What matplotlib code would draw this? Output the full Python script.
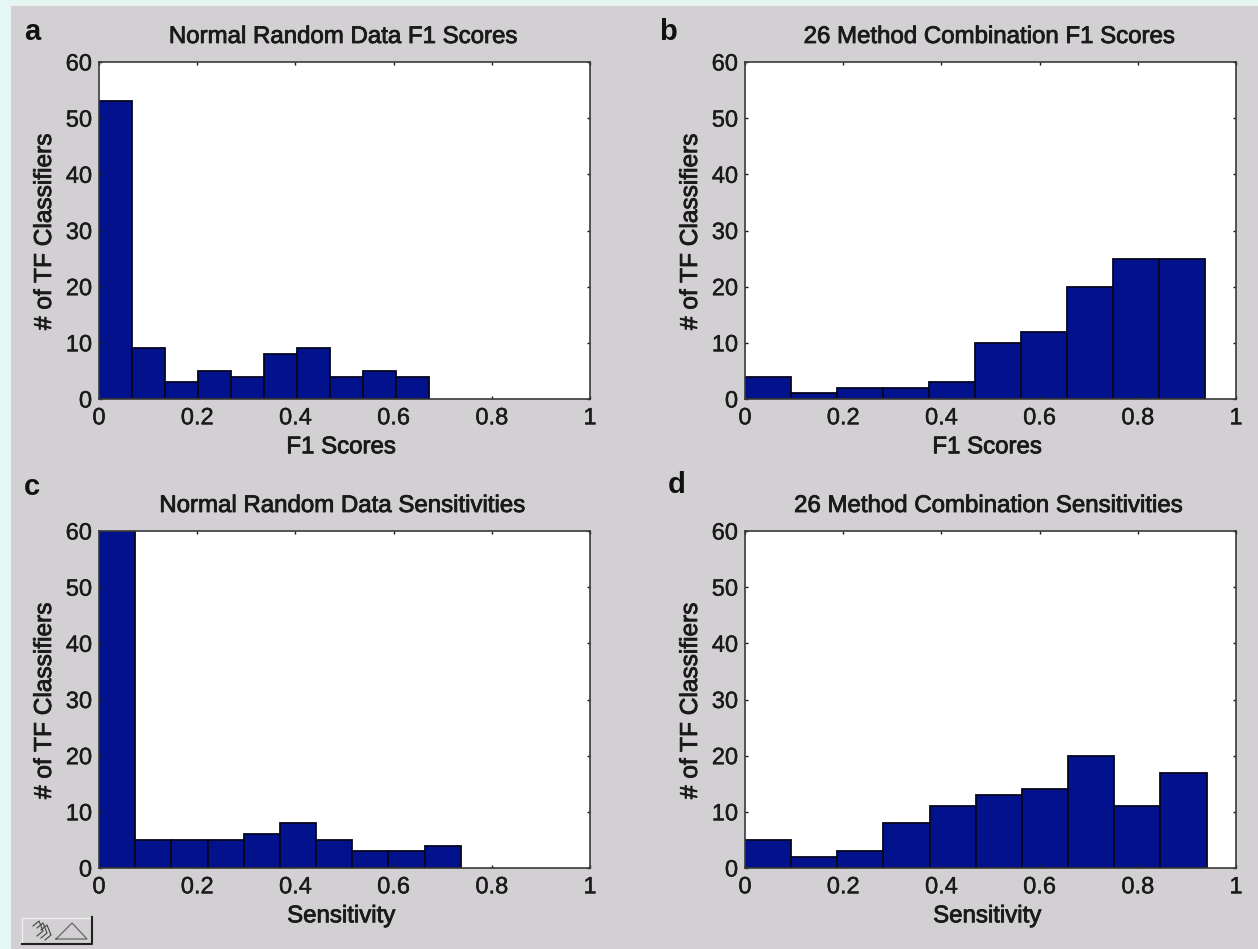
import matplotlib
matplotlib.use("Agg")
import matplotlib.pyplot as plt
import matplotlib.patheffects as pe
from matplotlib.patches import Rectangle
from matplotlib.lines import Line2D

W, H = 1258, 949
plt.rcParams['font.family'] = ['Liberation Sans', 'DejaVu Sans']

titles = ["Normal Random Data F1 Scores", "26 Method Combination F1 Scores",
          "Normal Random Data Sensitivities", "26 Method Combination Sensitivities"]
xlabels = ["F1 Scores", "F1 Scores", "Sensitivity", "Sensitivity"]
ylabel = "# of TF Classifiers"
panel_letters = ["a", "b", "c", "d"]

counts_a = [53, 9, 3, 5, 4, 8, 9, 4, 5, 4]
counts_b = [4, 1, 2, 2, 3, 10, 12, 20, 25, 25]
counts_c = [60, 5, 5, 5, 6, 8, 5, 3, 3, 4]
counts_d = [5, 2, 3, 8, 11, 13, 14, 20, 11, 17]
max_a, max_b, max_c, max_d = 0.672, 0.937, 0.737, 0.940
xticks = [0, 0.2, 0.4, 0.6, 0.8, 1]
xticklabels = ["0", "0.2", "0.4", "0.6", "0.8", "1"]
yticks = [0, 10, 20, 30, 40, 50, 60]

panels = [(counts_a, max_a), (counts_b, max_b), (counts_c, max_c), (counts_d, max_d)]
boxes = [(99, 62, 590, 399), (745, 62, 1236, 399), (99, 531, 590, 868), (745, 531, 1236, 868)]
letter_pos = [(24, 32), (659, 32), (24, 487), (668, 485)]
title_y = [37, 37, 506, 506]
title_cx = [343, 989, 342, 988]
TXT = "#1A1A1A"
heavy = [pe.withStroke(linewidth=0.6, foreground=TXT)]

fig = plt.figure(figsize=(W / 100, H / 100), dpi=100, facecolor="#E4F7F2")
fig.add_artist(Rectangle((11 / W, 0), 1, 1 - 5 / H, transform=fig.transFigure,
                         facecolor="#D3D0D3", edgecolor="none", zorder=-5))
fig.add_artist(Line2D([11 / W, 1], [1 - 5 / H] * 2, color="#F4F4F4", lw=1.2))

for i, ((counts, xmax), box) in enumerate(zip(panels, boxes)):
    l, t, r, b = box
    ax = fig.add_axes([l / W, 1 - b / H, (r - l) / W, (b - t) / H])
    width = xmax / len(counts)
    lefts = [k * width for k in range(len(counts))]
    ax.bar(lefts, counts, width=width, align="edge", color="#02128C",
           edgecolor="#050520", linewidth=1.3)
    ax.set_xlim(0, 1)
    ax.set_ylim(0, 60)
    ax.set_xticks(xticks, xticklabels)
    ax.set_yticks(yticks)
    ax.tick_params(direction="in", length=2.5, width=1, labelsize=17,
                   top=True, right=True, colors=TXT)
    ax.tick_params(axis="x", pad=6)
    ax.tick_params(axis="y", pad=5)
    for lab in ax.get_xticklabels() + ax.get_yticklabels():
        lab.set_path_effects([pe.withStroke(linewidth=0.3, foreground=TXT)])
    for s in ax.spines.values():
        s.set_color("#3A3A3A")
        s.set_linewidth(1.2)
    ax.set_xlabel(xlabels[i], fontsize=17.3, color=TXT, labelpad=5, x=0.493, path_effects=heavy)
    ax.set_ylabel(ylabel, fontsize=17.6, color=TXT, labelpad=7, y=0.495, path_effects=heavy)
    fig.text(title_cx[i] / W, 1 - title_y[i] / H, titles[i], fontsize=17.3,
             color=TXT, ha="center", va="center", path_effects=heavy)
    lx, ly = letter_pos[i]
    fig.text(lx / W, 1 - ly / H, panel_letters[i], fontsize=21, fontweight="bold",
             color="#111111", ha="left", va="center")


def px_line(xs, ys, color="#333333", lw=1.0):
    fig.add_artist(Line2D([x / W for x in xs], [1 - y / H for y in ys], color=color, lw=lw))


# toolbar button at lower-left
px_line([22, 91], [918, 918], "#EDEDED", 1.0)
px_line([22, 22], [918, 943], "#EDEDED", 1.0)
px_line([22, 92, 92], [944, 944, 917], "#202020", 1.5)
px_line([56, 72, 87, 56], [939, 923, 939, 939], "#666666", 0.9)
for dx in (0, 4, 8):
    px_line([33 + dx, 39 + dx, 43 + dx, 37 + dx], [926 + dx // 2, 921 + dx // 2, 931 + dx // 2, 936 + dx // 2],
            "#444444", 0.8)

fig.savefig("out.png", dpi=100, facecolor=fig.get_facecolor())
